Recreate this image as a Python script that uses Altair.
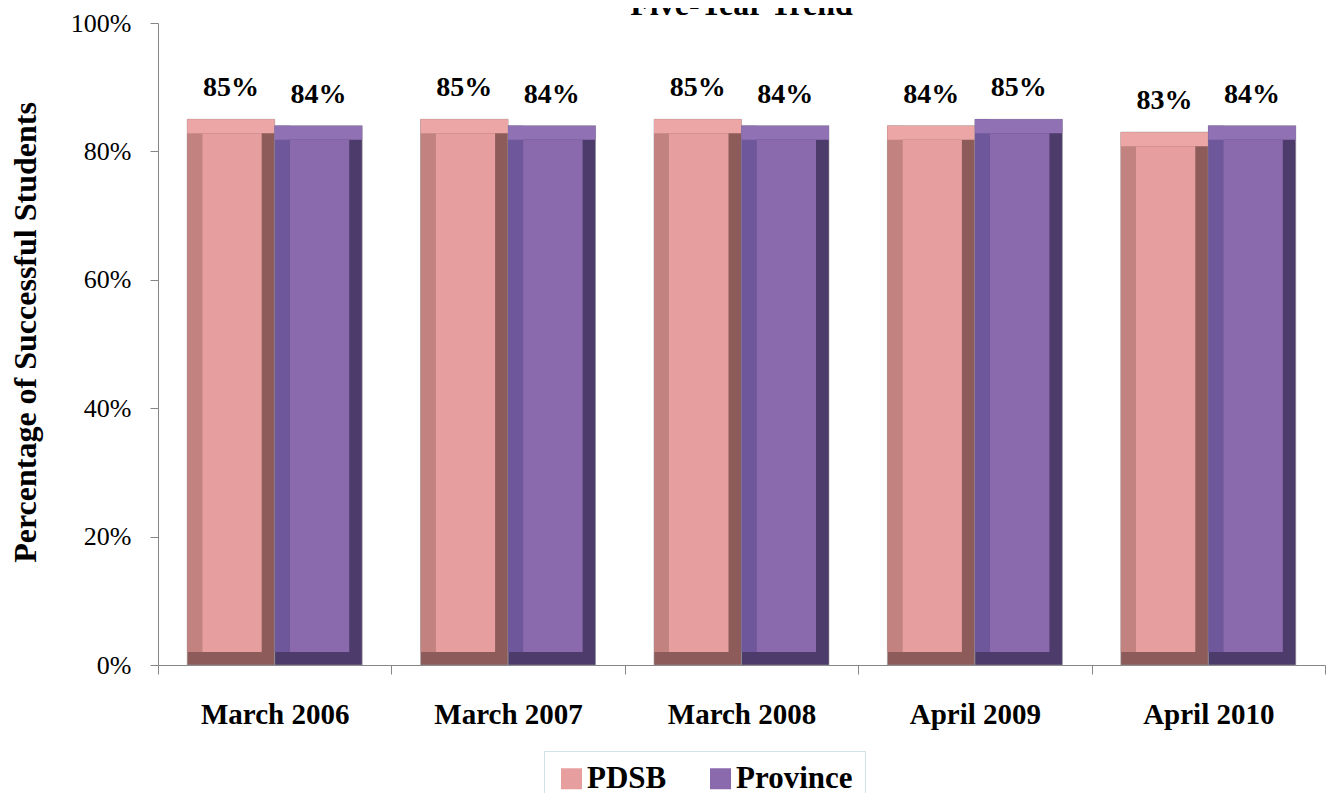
import altair as alt
import pandas as pd

years = ["March 2006", "March 2007", "March 2008", "April 2009", "April 2010"]
series_names = ["PDSB", "Province"]
pdsb = [85, 85, 85, 84, 83]
province = [84, 84, 84, 85, 84]
y_ticks = [0, 20, 40, 60, 80, 100]
chart_title = ["Five-Year Trend"]

rows = []
for i, yr in enumerate(years):
    rows.append({"year": yr, "series": "PDSB", "value": pdsb[i]})
    rows.append({"year": yr, "series": "Province", "value": province[i]})
df = pd.DataFrame(rows)

FONT = "Liberation Serif"
W, H = 1167, 642
BAR_W = 87.5          # width of one bar in pixels
SIDE_L, SIDE_R = 15, 13   # bevel widths
TOP_B, BOT_B = 14, 13

face_col = {"PDSB": "#e69f9e", "Province": "#8a6aad"}
left_col = {"PDSB": "#c28380", "Province": "#6e579a"}
dark_col = {"PDSB": "#8c5b5a", "Province": "#4d3b6b"}
top_col = {"PDSB": "#eba6a5", "Province": "#8f71b4"}

x_enc = alt.X(
    "year:N",
    sort=years,
    scale=alt.Scale(paddingInner=0, paddingOuter=0),
    axis=alt.Axis(
        title=None, labelAngle=0, tickBand="extent", tickSize=9,
        labelPadding=26, labelFontSize=29, labelFontWeight="bold",
        labelColor="#000000", domainColor="#868686", tickColor="#868686",
        labelFont=FONT,
    ),
)
y_enc = alt.Y(
    "value:Q",
    scale=alt.Scale(domain=[0, 100]),
    axis=alt.Axis(
        values=y_ticks, labelExpr="datum.value + '%'", grid=False,
        tickSize=8, labelPadding=19, labelFontSize=26, labelColor="#000000",
        labelFont=FONT, domainColor="#868686", tickColor="#868686",
        title="Percentage of Successful Students", titleFont=FONT,
        titleFontSize=32, titleFontWeight="bold", titleColor="#000000",
        titleAngle=270, titleX=-123, titleY=309, titleAlign="center",
        titleBaseline="alphabetic",
    ),
)

legend = alt.Legend(
    title=None, orient="none", legendX=386, legendY=728, direction="horizontal",
    fillColor="#ffffff", strokeColor="#cfe2ea", padding=12,
    symbolType="square", symbolSize=441, symbolStrokeWidth=0,
    labelFont=FONT, labelFontSize=31, labelFontWeight="bold",
    labelColor="#000000", labelOffset=0, columnPadding=38,
)
color_enc = alt.Color(
    "series:N", sort=series_names,
    scale=alt.Scale(domain=series_names,
                    range=[face_col[s] for s in series_names]),
    legend=legend)

base = alt.Chart(df)
layers = []
for k, s in enumerate(series_names):
    src = base.transform_filter(alt.datum.series == s)
    bar_left = -BAR_W if k == 0 else 0.0      # relative to year-band centre

    def stripe(a, w):
        # centre offset of a stripe spanning [a, a+w] inside the bar
        return bar_left + a + w / 2

    # whole bar in the dark (right / bottom bevel) colour
    layers.append(src.mark_bar(width=BAR_W, xOffset=stripe(0, BAR_W),
                               color=dark_col[s], stroke="#9c9c9c",
                               strokeWidth=0.8, strokeOpacity=0.7).encode(
        x=x_enc, y=y_enc, y2=alt.Y2(datum=0)))
    # left bevel
    layers.append(src.mark_bar(width=SIDE_L, xOffset=stripe(0, SIDE_L),
                               y2Offset=-BOT_B, color=left_col[s]).encode(
        x=x_enc, y=y_enc, y2=alt.Y2(datum=0)))
    # top bevel
    layers.append(src.mark_bar(width=BAR_W, xOffset=stripe(0, BAR_W),
                               y2Offset=TOP_B, color=top_col[s]).encode(
        x=x_enc, y=y_enc, y2=alt.Y2("value:Q")))
    # front face
    fw = BAR_W - SIDE_L - SIDE_R
    layers.append(src.mark_bar(width=fw, xOffset=stripe(SIDE_L, fw),
                               yOffset=TOP_B, y2Offset=-BOT_B).encode(
        x=x_enc, y=y_enc, y2=alt.Y2(datum=0), color=color_enc))
    # value label
    layers.append(src.mark_text(
        dx=stripe(0, BAR_W), dy=-23, baseline="alphabetic", font=FONT,
        fontSize=28, fontWeight="bold", color="#000000",
    ).transform_calculate(label="datum.value + '%'").encode(
        x=x_enc, y=y_enc, text="label:N"))

# chart title (partly above the top edge, as in the original)
title_layer = alt.Chart(pd.DataFrame({"t": chart_title})).mark_text(
    font=FONT, fontSize=32, fontWeight="bold", color="#000000",
    align="center", baseline="alphabetic",
).encode(x=alt.value(W / 2), y=alt.value(-8), text="t:N")
layers.append(title_layer)

chart = alt.layer(*layers).properties(
    width=W, height=H,
    autosize=alt.AutoSizeParams(type="none"),
    padding={"left": 150, "top": 15, "right": 1, "bottom": 128},
).configure_view(stroke=None)

chart.save("out.html", embed_options={"renderer": "svg", "actions": False})
